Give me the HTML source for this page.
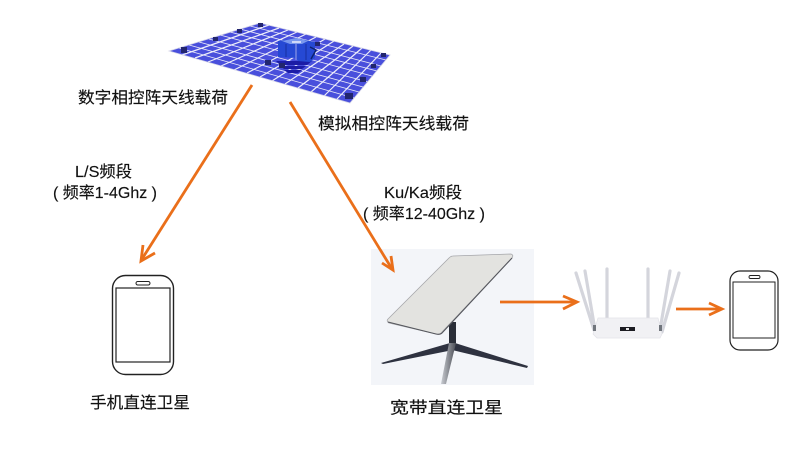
<!DOCTYPE html>
<html lang="zh">
<head>
<meta charset="utf-8">
<style>
html,body{margin:0;padding:0;background:#fff;width:800px;height:454px;overflow:hidden}
svg{display:block}
text{font-family:"Liberation Sans","Noto Sans CJK SC",sans-serif;font-size:16px;fill:#111;stroke:#111;stroke-width:.15}
</style>
</head>
<body>
<svg width="800" height="454" viewBox="0 0 800 454" xmlns="http://www.w3.org/2000/svg">
<defs>
<filter id="b" x="-5%" y="-5%" width="110%" height="110%"><feGaussianBlur stdDeviation="0.35"/></filter>
<linearGradient id="leg" x1="0" y1="0" x2="1" y2="0"><stop offset="0" stop-color="#c9ccd2"/><stop offset="1" stop-color="#4a4d55"/></linearGradient>
</defs>

<!-- phased array panel -->
<g filter="url(#b)">
<polygon points="169,51 260,23 390,55 350,103" fill="#4a50dc"/>
<g stroke="#eeeefa" fill="none">
<path stroke-width="0.8" d="M179,48L354,98M189,45L359,92M199,42L363,87M209,39L368,82M220,35L372,76M230,32L377,71M240,29L381,66M250,26L386,60"/>
<path stroke-width="1.2" d="M182,55L269,25M195,58L279,28M208,62L288,30M221,66L297,32M234,70L306,34M247,73L316,37M260,77L325,39M272,81L334,41M285,84L344,44M298,88L353,46M311,92L362,48M324,96L371,50M337,99L381,53"/>
</g>
<polygon points="169,51 260,23 390,55 350,103" fill="none" stroke="#d4d4e8" stroke-width="0.8"/>
<!-- dark stripes under the central unit -->
<g fill="#1a1fa6">
<polygon points="276,61 312,61 307,65 280,65"/>
<polygon points="280,66 306,66 302,69 284,69"/>
<polygon points="284,70 302,70 298,73 288,73"/>
</g>
<!-- central unit -->
<polygon points="278,41 296,38 315,42 315,58 310,62 298,61 296,58 278,57" fill="#2648d4"/>
<polygon points="282,41 296,38 308,41 302,44 290,44" fill="#7a98ee"/>
<rect x="292" y="41" width="9" height="2" fill="#cfd8f8"/>
<path d="M296,44V60" stroke="#7384e0" stroke-width="1.6"/>
<path d="M286,44V57M306,44V60" stroke="#1b34a8" stroke-width="1.2"/>
<path d="M310,47L316,50L311,59" stroke="#10206c" stroke-width="1.4" fill="none"/>
<!-- small modules -->
<g fill="#23286e">
<rect x="181" y="47" width="6" height="6"/>
<rect x="213" y="37" width="5" height="4"/>
<rect x="237" y="29" width="5" height="4"/>
<rect x="258" y="23" width="5" height="4"/>
<rect x="265" y="60" width="6" height="5"/>
<rect x="279" y="63" width="6" height="5"/>
<rect x="315" y="42" width="5" height="4"/>
<rect x="345" y="93" width="8" height="6"/>
<rect x="360" y="77" width="6" height="5"/>
<rect x="371" y="64" width="5" height="4"/>
<rect x="381" y="53" width="5" height="4"/>
</g>
</g>

<!-- starlink dish image -->
<rect x="371" y="249" width="163" height="136" fill="#f3f5f9"/>
<g filter="url(#b)">
<polygon points="450,343 381,363 383,364 453,350" fill="#2f3340"/>
<polygon points="455,343 528,366 527,368 452,350" fill="#2f3340"/>
<rect x="449" y="322" width="7" height="23" fill="#2a2d38"/>
<polygon points="449,343 456,343 446,384 441,384" fill="url(#leg)"/>
<path d="M453,256L511,254Q514,255 512,258L442,332Q440,335 436,334L389,323Q386,321 388,319L449,258Q451,256 453,256Z" fill="#e3e3e0" stroke="#a5a6aa" stroke-width="0.8"/>
<path d="M512,258L442,333Q440,335 436,334L388,322" fill="none" stroke="#55575d" stroke-width="1.1"/>
</g>

<!-- router -->
<g filter="url(#b)">
<g stroke="#d4d5dc" stroke-width="3.2" stroke-linecap="round" fill="none">
<path d="M576,273L594,330"/>
<path d="M585,271L595,330"/>
<path d="M607,269V318"/>
<path d="M648,269V318"/>
<path d="M670,271L660,330"/>
<path d="M679,273L662,332"/>
</g>
<polygon points="598,318 658,318 662,334 660,338 597,338 593,334" fill="#f1f1f4" stroke="#e2e2e8" stroke-width="0.7"/>
<rect x="620" y="327" width="15" height="4" fill="#1d1d22"/>
<rect x="626" y="328" width="3" height="2" fill="#e8e8e8"/>
<rect x="593" y="325" width="3" height="6" fill="#70747c"/>
<rect x="659" y="325" width="3" height="6" fill="#70747c"/>
</g>

<!-- large phone -->
<g fill="none" stroke="#222" filter="url(#b)">
<rect x="112.5" y="275.5" width="61" height="99" rx="13" stroke-width="1.4"/>
<rect x="116" y="288" width="54" height="74" stroke-width="1.2" fill="#fff"/>
<rect x="136" y="281.5" width="14" height="3.5" rx="1.7" stroke-width="1"/>
</g>

<!-- small phone -->
<g fill="none" stroke="#222" filter="url(#b)">
<rect x="730" y="271" width="48" height="79" rx="10" stroke-width="1.2"/>
<rect x="733" y="282" width="42" height="56" stroke-width="1" fill="#fff"/>
<rect x="749" y="275.5" width="11" height="3" rx="1.5" stroke-width="0.9"/>
</g>

<!-- arrows -->
<g stroke="#ea6f1a" stroke-width="2.8" fill="none" stroke-linecap="butt" stroke-linejoin="miter">
<path d="M252,85L142,259"/>
<path d="M143,245L141,261L155,253"/>
<path d="M290,102L392,269"/>
<path d="M382,263L393,270L391,256"/>
<path d="M500,302H576"/>
<path d="M563,296L577,302L563,309"/>
<path d="M676,309H720"/>
<path d="M709,303L722,309L709,315"/>
</g>

<!-- labels -->
<text x="78" y="103" textLength="150" lengthAdjust="spacingAndGlyphs">数字相控阵天线载荷</text>
<text x="318" y="129" textLength="151" lengthAdjust="spacingAndGlyphs">模拟相控阵天线载荷</text>
<text x="75" y="177" textLength="57" lengthAdjust="spacingAndGlyphs">L/S频段</text>
<text x="53" y="198" textLength="104" lengthAdjust="spacingAndGlyphs">( 频率1-4Ghz )</text>
<text x="384" y="198" textLength="78" lengthAdjust="spacingAndGlyphs">Ku/Ka频段</text>
<text x="363" y="219" textLength="122" lengthAdjust="spacingAndGlyphs">( 频率12-40Ghz )</text>
<text x="90" y="408" textLength="100" lengthAdjust="spacingAndGlyphs">手机直连卫星</text>
<text x="390" y="413" textLength="113" lengthAdjust="spacingAndGlyphs">宽带直连卫星</text>
</svg>
</body>
</html>
